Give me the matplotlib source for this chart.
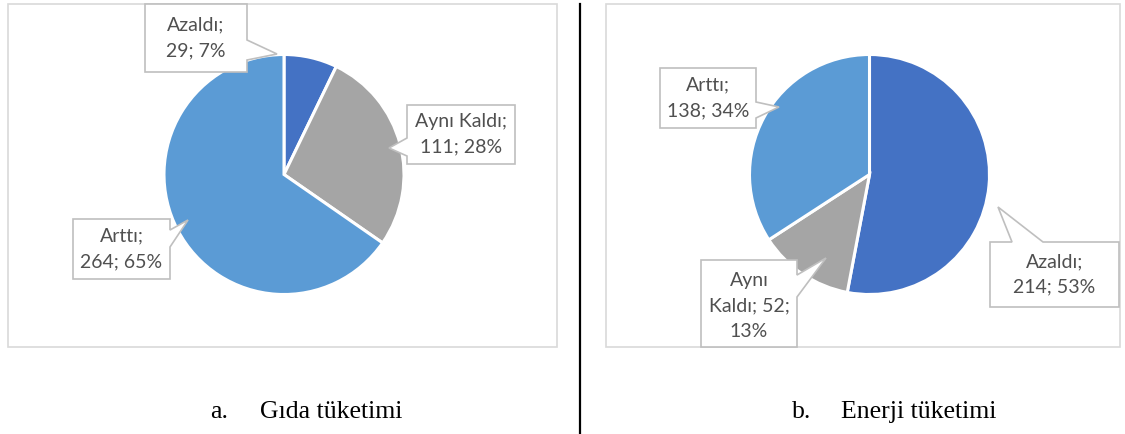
import textwrap
import matplotlib
matplotlib.use("Agg")
import matplotlib.pyplot as plt
from matplotlib.patches import Polygon, Rectangle

# ---- data ----
categories = ["Azaldı", "Aynı Kaldı", "Arttı"]
gida_values = [29, 111, 264]
gida_pcts = [7, 28, 65]
enerji_values = [214, 52, 138]
enerji_pcts = [53, 13, 34]
captions = [("a.", "Gıda tüketimi"), ("b.", "Enerji tüketimi")]

colors = ["#4472C4", "#A5A5A5", "#5B9BD5"]

W, H = 1125, 434
fig = plt.figure(figsize=(W / 100, H / 100), dpi=100)
ax = fig.add_axes([0, 0, 1, 1])


def Y(y):
    return H - y


LABEL_FONT = dict(family="Lato", fontsize=14, color="#505050", linespacing=1.6)

# chart panel borders (pixel coords, top-left origin)
for (l, t, r, b) in [(8, 4, 557, 347), (606, 4, 1120, 347)]:
    ax.add_patch(Rectangle((l, Y(b)), r - l, b - t, fill=False,
                           edgecolor="#D9D9D9", linewidth=1.2, zorder=1))

# separator line
ax.plot([580, 580], [Y(4), Y(434)], color="black", linewidth=1.6, zorder=1)

pies = [
    dict(values=gida_values, pcts=gida_pcts, center=(284, 174.5),
         labels=[
             dict(box=(145, 4, 247, 72), side="right", base=(40, 60), tip=(277, 54), wrap=8, ty=None),
             dict(box=(407, 105, 515, 164), side="left", base=(138, 156), tip=(389, 148), wrap=11, ty=None),
             dict(box=(73, 219, 170, 279), side="right", base=(230, 247), tip=(188, 220), wrap=9, ty=None),
         ]),
    dict(values=enerji_values, pcts=enerji_pcts, center=(869.5, 174.5),
         labels=[
             dict(box=(990, 242, 1119, 307), side="top", base=(1012, 1043), tip=(998, 207), wrap=9, ty=None),
             dict(box=(701, 260, 797, 347), side="right", base=(275, 297), tip=(826, 258), wrap=10, ty=306),
             dict(box=(660, 68, 756, 128), side="right", base=(102, 118), tip=(779, 107), wrap=9, ty=None),
         ]),
]


def callout(box, side, base, tip):
    L, T, R, B = box
    b1, b2 = base
    if side == "right":
        pts = [(L, T), (R, T), (R, b1), tip, (R, b2), (R, B), (L, B)]
    elif side == "left":
        pts = [(L, T), (R, T), (R, B), (L, B), (L, b2), tip, (L, b1)]
    else:  # top
        pts = [(L, T), (b1, T), tip, (b2, T), (R, T), (R, B), (L, B)]
    return [(x, Y(y)) for x, y in pts]


for p in pies:
    cx, cy = p["center"]
    ax.pie(p["values"], colors=colors, startangle=90, counterclock=False,
           center=(cx, Y(cy)), radius=120, frame=True,
           wedgeprops=dict(edgecolor="white", linewidth=2.2))
    for cat, val, pct, lab in zip(categories, p["values"], p["pcts"], p["labels"]):
        poly = Polygon(callout(lab["box"], lab["side"], lab["base"], lab["tip"]),
                       closed=True, facecolor="white", edgecolor="#BFBFBF",
                       linewidth=1.2, zorder=5)
        ax.add_patch(poly)
        L, T, R, B = lab["box"]
        txt = textwrap.fill(f"{cat}; {val}; {pct}%", width=lab["wrap"])
        ty = lab["ty"] if lab["ty"] is not None else (T + B) / 2
        ax.text((L + R) / 2, Y(ty), txt, ha="center", va="center",
                zorder=6, **LABEL_FONT)

# captions
cap_pos = [(210, 260), (792, 841)]
for (letter, title), (xa, xt) in zip(captions, cap_pos):
    ax.text(xa, Y(418), letter, family="Liberation Serif", fontsize=18.5,
            color="black", ha="left", va="baseline")
    ax.text(xt, Y(418), title, family="Liberation Serif", fontsize=18.5,
            color="black", ha="left", va="baseline")

ax.set_xlim(0, W)
ax.set_ylim(0, H)
ax.set_aspect("equal")
ax.axis("off")

fig.savefig("out.png", dpi=100)
